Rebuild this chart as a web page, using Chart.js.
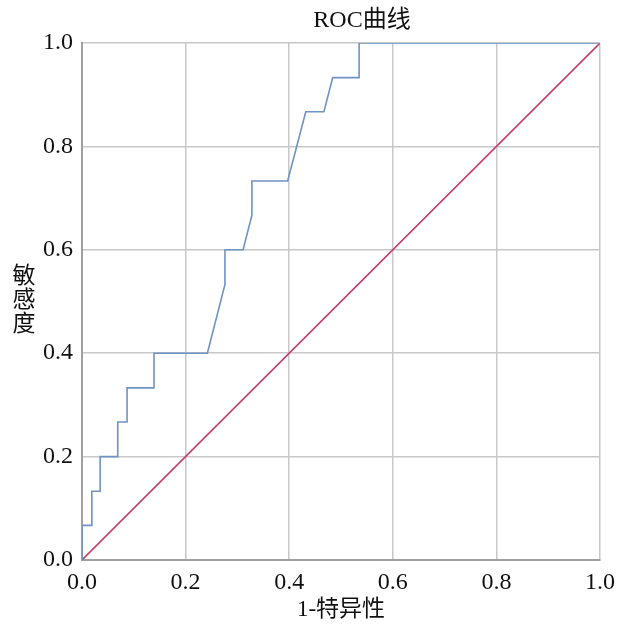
<!DOCTYPE html>
<html>
<head>
<meta charset="utf-8">
<script src="https://cdn.jsdelivr.net/npm/chart.js@4/dist/chart.umd.min.js"></script>
<style>
  html, body { margin: 0; padding: 0; background: #fff; }
  #wrap { width: 617px; height: 628px; }
</style>
</head>
<body>
<div id="wrap"><canvas id="roc" width="617" height="628"></canvas></div>
<script>
// ---- data ----
// ROC curve points: 1-specificity (x) and sensitivity (y)
const fprValues = [0, 0, 0.019, 0.019, 0.035, 0.035, 0.069, 0.069, 0.087, 0.087, 0.139, 0.139, 0.242, 0.276, 0.276, 0.311, 0.328, 0.328, 0.397, 0.432, 0.467, 0.484, 0.535, 0.535, 1.0];
const tprValues = [0, 0.067, 0.067, 0.133, 0.133, 0.2, 0.2, 0.267, 0.267, 0.333, 0.333, 0.4, 0.4, 0.533, 0.6, 0.6, 0.667, 0.733, 0.733, 0.867, 0.867, 0.933, 0.933, 1.0, 1.0];
// reference diagonal
const diagX = [0, 1];
const diagY = [0, 1];
const tickValues = [0, 0.2, 0.4, 0.6, 0.8, 1.0];

const chartTitle = 'ROC曲线';
const xTitle = '1-特异性';
const yTitle = ['敏', '感', '度'];

const SERIF = '"Liberation Serif", "Times New Roman", "Noto Sans CJK SC", serif';

// draws title and axis titles (y title is stacked vertically)
const labelsPlugin = {
    id: 'labels',
    afterDraw(chart) {
        const ctx = chart.ctx;
        const area = chart.chartArea;
        ctx.save();
        ctx.fillStyle = '#111';
        ctx.textAlign = 'center';
        ctx.textBaseline = 'middle';
        ctx.font = '24px ' + SERIF;
        ctx.fillText(chartTitle, 362, 21);
        ctx.font = '23px ' + SERIF;
        ctx.fillText(xTitle, (area.left + area.right) / 2, 610);
        yTitle.forEach(function(ch, i) {
            ctx.fillText(ch, 24, 277 + i * 24);
        });
        ctx.restore();
    }
};

const ctx = document.getElementById('roc').getContext('2d');

new Chart(ctx, {
    type: 'scatter',
    data: {
        datasets: [
            {
                label: 'ROC',
                data: fprValues.map((x, i) => ({ x: x, y: tprValues[i] })),
                showLine: true,
                borderColor: '#6f93c4',
                borderWidth: 1.6,
                pointRadius: 0,
                tension: 0
            },
            {
                label: '参考线',
                data: diagX.map((x, i) => ({ x: x, y: diagY[i] })),
                showLine: true,
                borderColor: '#c5416a',
                borderWidth: 1.6,
                pointRadius: 0
            }
        ]
    },
    options: {
        responsive: false,
        animation: false,
        layout: { padding: { left: 0, right: 17, top: 43, bottom: 0 } },
        plugins: {
            legend: { display: false },
            title: { display: false },
            tooltip: { enabled: false }
        },
        scales: {
            x: {
                type: 'linear',
                min: 0, max: 1,
                afterBuildTicks: s => { s.ticks = tickValues.map(v => ({ value: v })); },
                afterFit: s => { s.height = 68; s.paddingLeft = 0; s.paddingRight = 0; },
                ticks: {
                    padding: 8,
                    color: '#111',
                    font: { family: SERIF, size: 24 },
                    callback: v => v.toFixed(1)
                },
                grid: { color: '#c8c8c8', lineWidth: 1.5, drawTicks: false },
                border: { color: '#a0a0a0', width: 2 }
            },
            y: {
                type: 'linear',
                min: 0, max: 1,
                afterBuildTicks: s => { s.ticks = tickValues.map(v => ({ value: v })); },
                afterFit: s => { s.width = 82; s.paddingTop = 0; s.paddingBottom = 0; },
                ticks: {
                    padding: 9,
                    color: '#111',
                    font: { family: SERIF, size: 24 },
                    callback: v => v.toFixed(1)
                },
                grid: { color: '#c8c8c8', lineWidth: 1.5, drawTicks: false },
                border: { color: '#a0a0a0', width: 2 }
            }
        }
    },
    plugins: [labelsPlugin]
});
</script>
</body>
</html>
